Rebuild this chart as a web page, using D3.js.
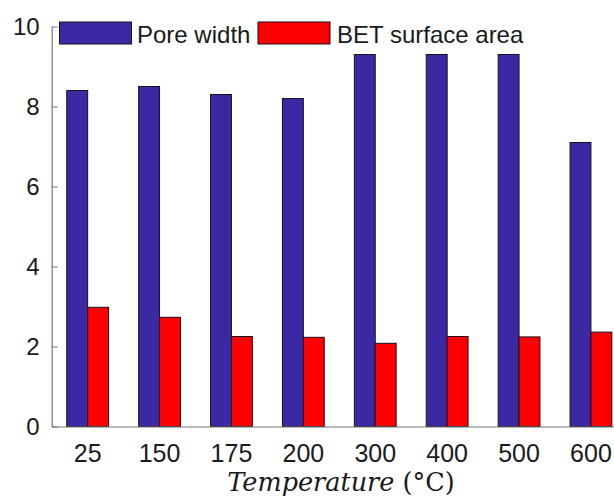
<!DOCTYPE html>
<html>
<head>
<meta charset="utf-8">
<script src="https://cdn.jsdelivr.net/npm/d3@7"></script>
<style>
    html, body { margin: 0; padding: 0; background: #fff; }
    svg { display: block; overflow: hidden; }
    text { font-family: "Liberation Sans", Arial, sans-serif; fill: #1a1a1a; }
</style>
</head>
<body>
<svg id="chart" width="614" height="500"></svg>
<script>
(function () {

    // data
    const temperatures = ['25', '150', '175', '200', '300', '400', '500', '600'];
    const poreWidth = [8.4, 8.5, 8.3, 8.2, 9.3, 9.3, 9.3, 7.1];
    const betArea = [2.98, 2.73, 2.25, 2.23, 2.08, 2.25, 2.24, 2.36];
    const yTicks = [0, 2, 4, 6, 8, 10];
    const seriesNames = ['Pore width', 'BET surface area'];
    const seriesColors = ['#3b29a3', '#ff0000'];

    const svg = d3.select('#chart');

    const left = 51.7, bottom = 426.5, top = 26.5;
    const step = 71.9;

    const x0 = d3.scaleBand()
        .domain(temperatures)
        .range([left, left + step * temperatures.length])
        .paddingInner(0)
        .paddingOuter(0);

    const x1 = d3.scaleBand()
        .domain(seriesNames)
        .range([0, x0.bandwidth()])
        .paddingInner(0)
        .paddingOuter(0.72);

    const y = d3.scaleLinear()
        .domain([0, 10])
        .range([bottom, top]);

    const rows = temperatures.map((t, i) => ({
        t: t,
        values: [
            { key: seriesNames[0], v: poreWidth[i], c: seriesColors[0] },
            { key: seriesNames[1], v: betArea[i], c: seriesColors[1] }
        ]
    }));

    // bars
    const groups = svg.append('g')
        .selectAll('g')
        .data(rows)
        .join('g')
        .attr('transform', (d) => `translate(${x0(d.t)},0)`);

    groups.selectAll('rect')
        .data((d) => d.values)
        .join('rect')
        .attr('x', (d) => x1(d.key))
        .attr('y', (d) => y(d.v))
        .attr('width', x1.bandwidth())
        .attr('height', (d) => y(0) - y(d.v))
        .attr('fill', (d) => d.c)
        .attr('stroke', '#1a1020')
        .attr('stroke-width', 1);

    // y axis, ticks pointing inward like matlab
    const yAxis = svg.append('g')
        .attr('transform', `translate(${left},0)`)
        .call(d3.axisLeft(y).tickValues(yTicks).tickSizeInner(-6).tickSizeOuter(0).tickPadding(12));

    yAxis.select('.domain').attr('stroke', '#777').attr('stroke-width', 1.2);
    yAxis.selectAll('.tick line').attr('stroke', '#777');
    yAxis.selectAll('.tick text')
        .attr('font-size', 24)
        .attr('font-family', '"Liberation Sans", Arial, sans-serif')
        .attr('fill', '#1a1a1a');

    // x axis
    const xAxis = svg.append('g')
        .attr('transform', `translate(0,${bottom})`)
        .call(d3.axisBottom(x0).tickSize(0).tickPadding(18));

    xAxis.select('.domain').attr('stroke', '#777').attr('stroke-width', 1.2);
    xAxis.selectAll('.tick text')
        .attr('font-size', 25)
        .attr('font-family', '"Liberation Sans", Arial, sans-serif')
        .attr('fill', '#1a1a1a');

    // x title, latex style
    const xTitle = svg.append('text')
        .attr('x', 341)
        .attr('y', 491)
        .attr('text-anchor', 'middle')
        .style('font-family', '"DejaVu Serif", "Liberation Serif", serif')
        .attr('font-size', 25.5);
    xTitle.append('tspan').attr('font-style', 'italic').text('Temperature');
    xTitle.append('tspan').text(' (°C)');

    // legend
    const legendPos = [{ sx: 59.5, tx: 137 }, { sx: 258, tx: 337 }];
    const legend = svg.append('g')
        .selectAll('g')
        .data(seriesNames)
        .join('g');

    legend.append('rect')
        .attr('x', (d, i) => legendPos[i].sx)
        .attr('y', 22)
        .attr('width', 72)
        .attr('height', 22)
        .attr('fill', (d, i) => seriesColors[i])
        .attr('stroke', '#1a1020')
        .attr('stroke-width', 1);

    legend.append('text')
        .attr('x', (d, i) => legendPos[i].tx)
        .attr('y', 43)
        .attr('font-size', 24)
        .text((d) => d);

})();
</script>
</body>
</html>
